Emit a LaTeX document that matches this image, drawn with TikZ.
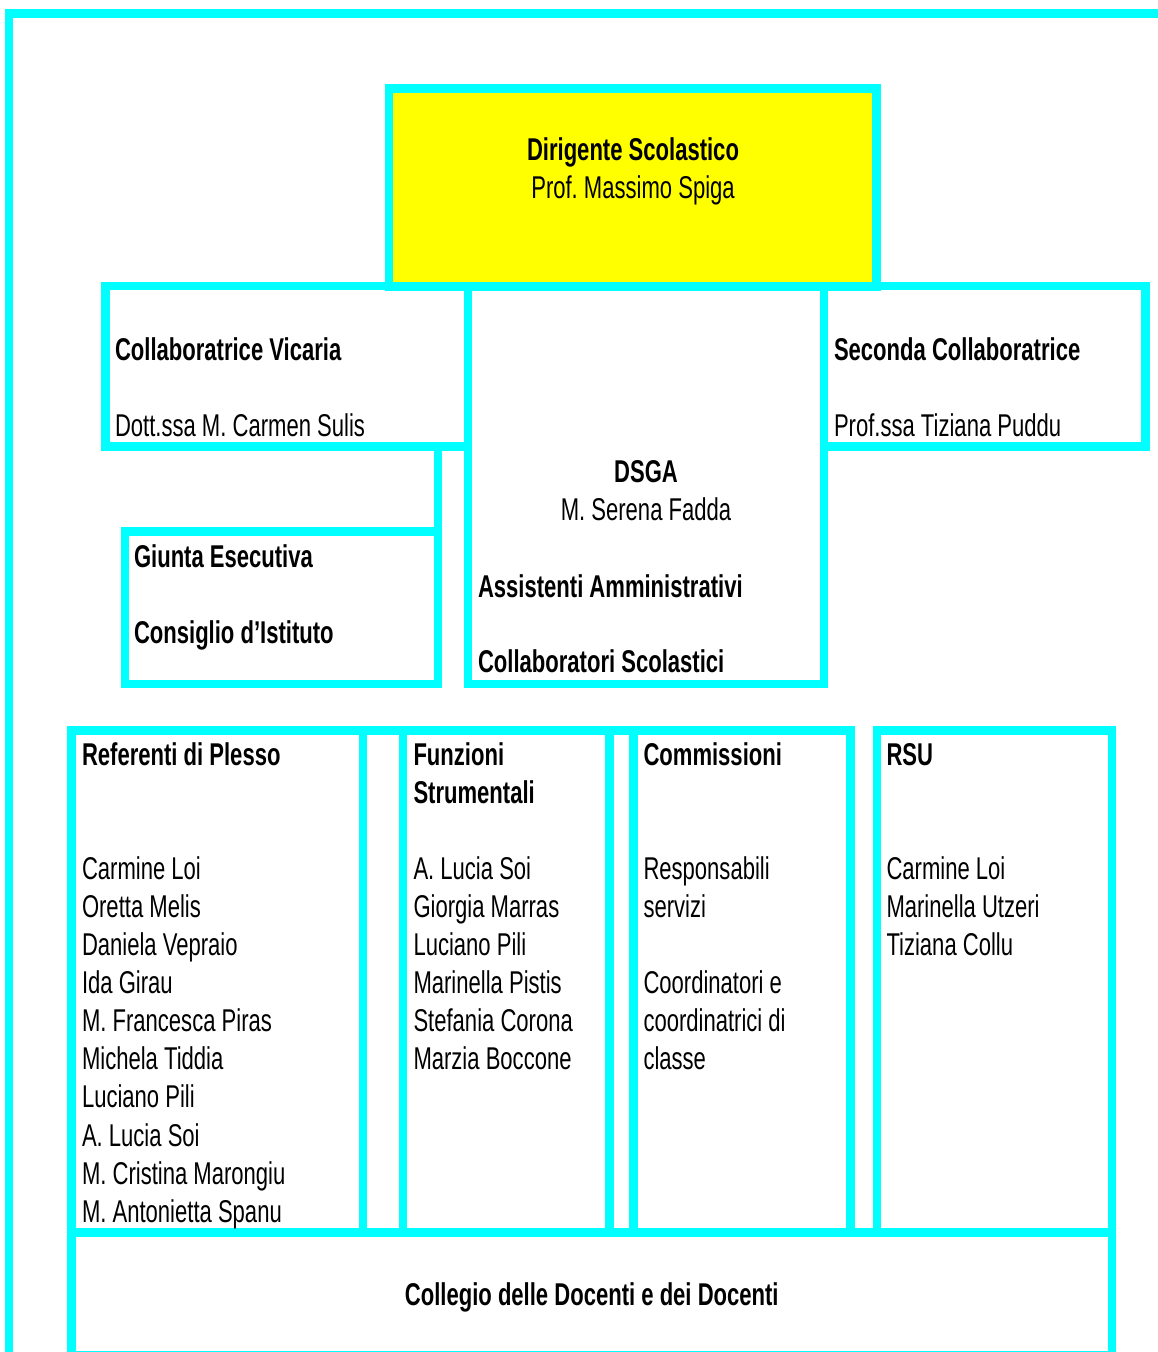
\documentclass[tikz,border=0pt]{standalone}
\usepackage{fontspec}
\setmainfont{Liberation Sans}[FakeStretch=0.7]
\definecolor{frame}{HTML}{00FFFF}
\definecolor{dsyellow}{HTML}{FFFF00}
\newcommand\orgbox[6][]{\node[bx,#1,minimum width={(#5-#3)*1pt},minimum height={(#6-#4)*1pt}] (#2) at (#3,#4) {};}
\frenchspacing
\begin{document}
\begin{tikzpicture}[x=1pt,y=-1pt,
  ln/.style={draw=frame,line width=8.7pt},
  bx/.style={ln,rectangle,inner sep=0pt,outer sep=0pt,anchor=north west},
  txt/.style={inner sep=0pt,outer sep=0pt,anchor=base west,font=\fontsize{31.5}{38}\selectfont},
  ctxt/.style={txt,anchor=base}]
\useasboundingbox (0,0) rectangle (1158,1352);
% outer frame
\coordinate (fbl) at (9,1370);
\coordinate (ftl) at (9,13.3);
\coordinate (ftr) at (1175,13.3);
\draw[ln] (fbl) -- (ftl) -- (ftr);
% boxes
\orgbox[fill=dsyellow]{dir}{389}{88.5}{876.5}{286.5}
\orgbox{vic}{105.5}{286}{468}{446.5}
\orgbox{dsga}{468}{286}{824}{684}
\orgbox{sec}{824}{286}{1145.5}{446.5}
\orgbox{giu}{125}{531.5}{438}{684}
\orgbox{ref}{71.5}{730.5}{363}{1232.5}
\orgbox{fun}{403}{730.5}{609.5}{1232.5}
\orgbox{com}{633.7}{730.5}{850.5}{1232.5}
\orgbox{rsu}{877}{730.5}{1112}{1232.5}
\orgbox{col}{71.5}{1232.5}{1112}{1355}
% connectors
\draw[ln] (giu.north east) -- (giu.north east |- vic.south);
\draw[ln] (ref.north east) -- (fun.north west);
\draw[ln] (fun.north east) -- (com.north west);
% texts
\node[ctxt] (dirA) at (633,160) {\textbf{Dirigente Scolastico}};
\node[ctxt] (dirB) at (633,198) {Prof. Massimo Spiga};
\node[txt] (vicA) at (115,360) {\textbf{Collaboratrice Vicaria}};
\node[txt] (vicB) at (115,436) {Dott.ssa M. Carmen Sulis};
\node[txt] (secA) at (834,360) {\textbf{Seconda Collaboratrice}};
\node[txt] (secB) at (834,436) {Prof.ssa Tiziana Puddu};
\node[ctxt] (dsA) at (646,482) {\textbf{DSGA}};
\node[ctxt] (dsB) at (646,520) {M. Serena Fadda};
\node[txt] (dsC) at (478,597) {\textbf{Assistenti Amministrativi}};
\node[txt] (dsD) at (478,672) {\textbf{Collaboratori Scolastici}};
\node[txt] (giA) at (134,567) {\textbf{Giunta Esecutiva}};
\node[txt] (giB) at (134,643) {\textbf{Consiglio d’Istituto}};
\node[txt] (refT) at (82,765) {\textbf{Referenti di Plesso}};
\foreach \t [count=\i from 3] in {Carmine Loi,Oretta Melis,Daniela Vepraio,Ida Girau,M. Francesca Piras,Michela Tiddia,Luciano Pili,A. Lucia Soi,M. Cristina Marongiu,M. Antonietta Spanu}
  \node[txt] (ref\i) at (82,{765+38.1*\i}) {\t};
\node[txt] (funT) at (413.5,765) {\textbf{Funzioni}};
\node[txt] (funU) at (413.5,803.1) {\textbf{Strumentali}};
\foreach \t [count=\i from 3] in {A. Lucia Soi,Giorgia Marras,Luciano Pili,Marinella Pistis,Stefania Corona,Marzia Boccone}
  \node[txt] (fun\i) at (413.5,{765+38.1*\i}) {\t};
\node[txt] (comT) at (643.5,765) {\textbf{Commissioni}};
\node[txt] (com3) at (643.5,{765+38.1*3}) {Responsabili};
\node[txt] (com4) at (643.5,{765+38.1*4}) {servizi};
\node[txt] (com6) at (643.5,{765+38.1*6}) {Coordinatori e};
\node[txt] (com7) at (643.5,{765+38.1*7}) {coordinatrici di};
\node[txt] (com8) at (643.5,{765+38.1*8}) {classe};
\node[txt] (rsuT) at (886.5,765) {\textbf{RSU}};
\foreach \t [count=\i from 3] in {Carmine Loi,Marinella Utzeri,Tiziana Collu}
  \node[txt] (rsu\i) at (886.5,{765+38.1*\i}) {\t};
\node[ctxt] (colT) at (591.75,1305) {\textbf{Collegio delle Docenti e dei Docenti}};
\end{tikzpicture}
\end{document}
